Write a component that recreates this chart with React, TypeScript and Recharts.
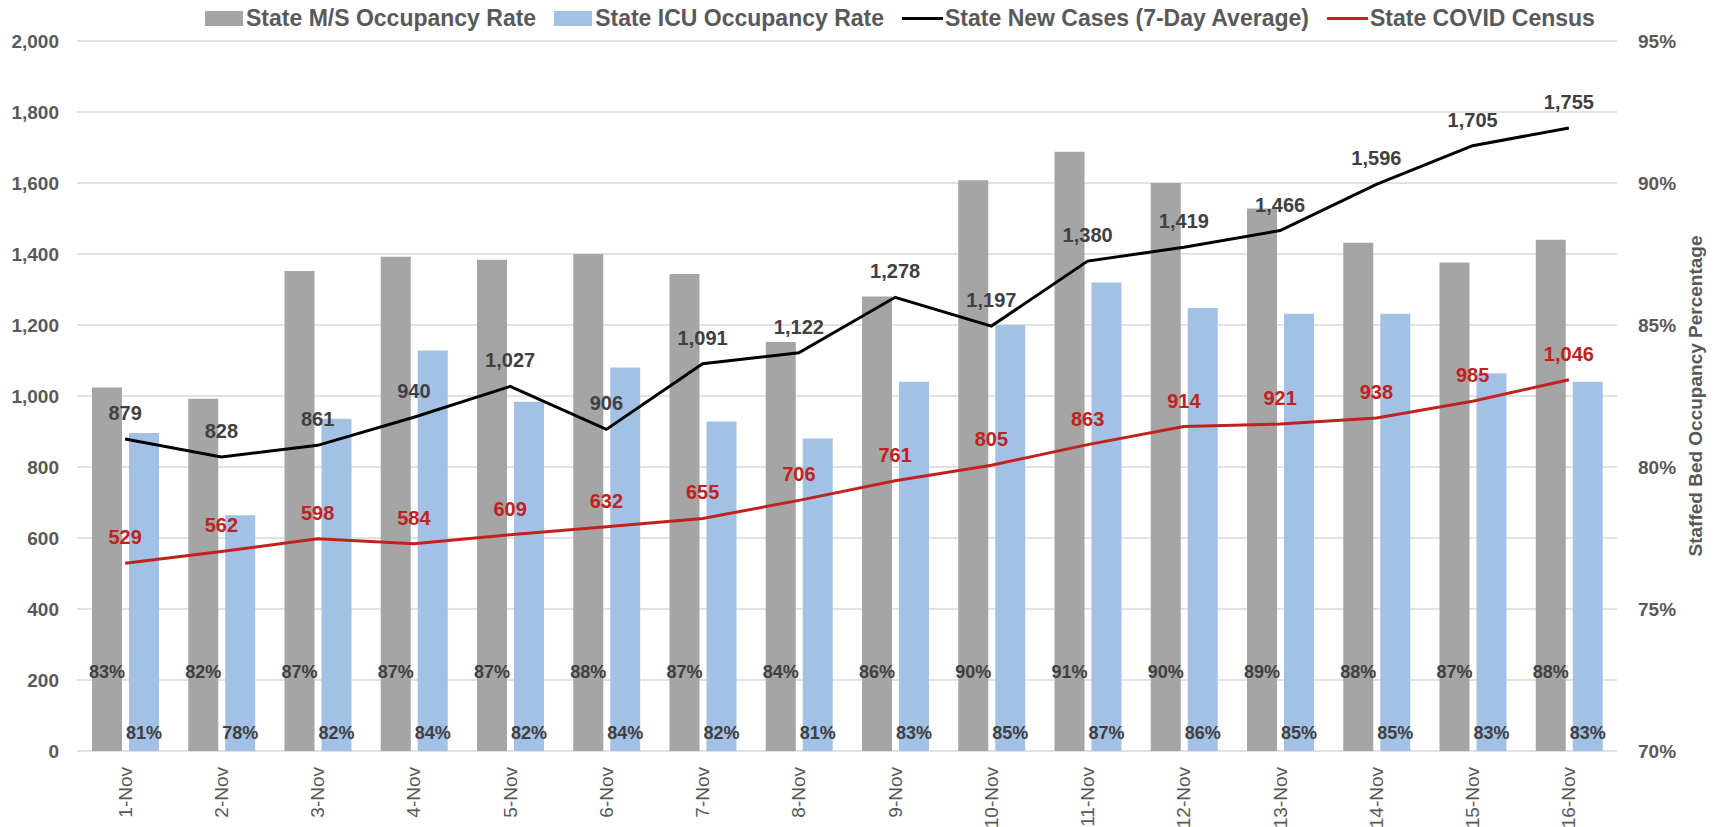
import React from "react";
import {
  Bar,
  CartesianGrid,
  ComposedChart,
  LabelList,
  Line,
  XAxis,
  YAxis
} from "recharts";

const dates = [
  "1-Nov", "2-Nov", "3-Nov", "4-Nov", "5-Nov", "6-Nov", "7-Nov", "8-Nov",
  "9-Nov", "10-Nov", "11-Nov", "12-Nov", "13-Nov", "14-Nov", "15-Nov", "16-Nov"
];
const msRate = [82.8, 82.4, 86.9, 87.4, 87.3, 87.5, 86.8, 84.4, 86.0, 90.1, 91.1, 90.0, 89.1, 87.9, 87.2, 88.0];
const icuRate = [81.2, 78.3, 81.7, 84.1, 82.3, 83.5, 81.6, 81.0, 83.0, 85.0, 86.5, 85.6, 85.4, 85.4, 83.3, 83.0];
const newCases = [879, 828, 861, 940, 1027, 906, 1091, 1122, 1278, 1197, 1380, 1419, 1466, 1596, 1705, 1755];
const census = [529, 562, 598, 584, 609, 632, 655, 706, 761, 805, 863, 914, 921, 938, 985, 1046];

const leftTicks = [0, 200, 400, 600, 800, 1000, 1200, 1400, 1600, 1800, 2000];
const rightTicks = [70, 75, 80, 85, 90, 95];
const boundaryTicks = Array.from({ length: dates.length + 1 }, (_, i) => i);

const data = dates.map((d, i) => ({
  date: d,
  ms: msRate[i],
  icu: icuRate[i],
  cases: newCases[i],
  census: census[i]
}));

const FONT = "'Liberation Sans', Arial, sans-serif";
const GREY = "#a5a5a5";
const BLUE = "#a3c1e4";
const RED = "#c0221d";
const TEXT = "#595959";

const legendItems = [
  { name: "State M/S Occupancy Rate", color: GREY, kind: "box" },
  { name: "State ICU Occupancy Rate", color: BLUE, kind: "box" },
  { name: "State New Cases (7-Day Average)", color: "#000", kind: "line" },
  { name: "State COVID Census", color: RED, kind: "line" }
];

const fmt = (v: number) => v.toLocaleString("en-US");

function pctLabel(offset: number) {
  return (props: any) => {
    const { x, y, width, height, value } = props;
    return (
      <text
        x={x + width / 2}
        y={y + height - offset}
        textAnchor="middle"
        dominantBaseline="central"
        fontFamily={FONT}
        fontSize={18}
        fontWeight="bold"
        fill="#404040"
      >
        {Math.round(value)}%
      </text>
    );
  };
}

function lineLabel(color: string) {
  return (props: any) => {
    const { x, y, value } = props;
    return (
      <text
        x={x}
        y={y - 19}
        textAnchor="middle"
        fontFamily={FONT}
        fontSize={20}
        fontWeight="bold"
        fill={color}
      >
        {fmt(value)}
      </text>
    );
  };
}

function DateTick(props: any) {
  const { x, y, payload } = props;
  return (
    <text
      transform={`translate(${x},${y + 8}) rotate(-90)`}
      textAnchor="end"
      dominantBaseline="central"
      fontFamily={FONT}
      fontSize={19}
      fill={TEXT}
    >
      {payload.value}
    </text>
  );
}

function RightTitle(props: any) {
  const { viewBox } = props;
  const cx = viewBox.x + 78;
  const cy = viewBox.y + viewBox.height / 2;
  return (
    <text
      transform={`translate(${cx},${cy}) rotate(-90)`}
      textAnchor="middle"
      dominantBaseline="central"
      fontFamily={FONT}
      fontSize={19}
      fontWeight="bold"
      fill={TEXT}
    >
      Staffed Bed Occupancy Percentage
    </text>
  );
}

export default function App() {
  return (
    <div
      style={{
        position: "fixed",
        left: 0,
        top: 0,
        width: 1715,
        height: 827,
        background: "#fff",
        fontFamily: FONT
      }}
    >
      <div
        style={{
          position: "absolute",
          top: 5,
          left: 205,
          display: "flex",
          alignItems: "center",
          fontSize: 23,
          lineHeight: "26px",
          fontWeight: "bold",
          color: TEXT,
          whiteSpace: "nowrap"
        }}
      >
        {legendItems.map((it) => (
          <div
            key={it.name}
            style={{ display: "flex", alignItems: "center", marginRight: 18 }}
          >
            {it.kind === "box" ? (
              <span
                style={{
                  display: "inline-block",
                  width: 38,
                  height: 15,
                  background: it.color,
                  marginRight: 3
                }}
              />
            ) : (
              <span
                style={{
                  display: "inline-block",
                  width: 41,
                  height: 3,
                  background: it.color,
                  marginRight: 2
                }}
              />
            )}
            {it.name}
          </div>
        ))}
      </div>
      <ComposedChart
        width={1715}
        height={827}
        data={data}
        margin={{ top: 41, right: 0, bottom: 0, left: 0 }}
        barSize={30}
        barGap={7}
      >
        <CartesianGrid
          vertical={false}
          stroke="#d9d9d9"
          strokeWidth={1.5}
          yAxisId="left"
        />
        <XAxis
          xAxisId="bounds"
          type="number"
          domain={[0, dates.length]}
          ticks={boundaryTicks}
          height={0}
          tick={false}
          tickSize={9}
          stroke="#d9d9d9"
          axisLine={{ stroke: "#d9d9d9", strokeWidth: 1.5 }}
        />
        <XAxis
          dataKey="date"
          height={76}
          axisLine={false}
          tickLine={false}
          interval={0}
          tick={<DateTick />}
        />
        <YAxis
          yAxisId="left"
          width={77}
          domain={[0, 2000]}
          ticks={leftTicks}
          tickFormatter={fmt}
          axisLine={false}
          tickLine={false}
          tickMargin={12}
          tick={{ fontFamily: FONT, fontSize: 19, fontWeight: "bold", fill: TEXT }}
        />
        <YAxis
          yAxisId="right"
          orientation="right"
          width={98}
          domain={[70, 95]}
          ticks={rightTicks}
          tickFormatter={(v: number) => `${v}%`}
          axisLine={false}
          tickLine={false}
          tickMargin={15}
          tick={{ fontFamily: FONT, fontSize: 19, fontWeight: "bold", fill: TEXT, textAnchor: "start" }}
          label={<RightTitle />}
        />
        <Bar yAxisId="right" dataKey="ms" fill={GREY} isAnimationActive={false}>
          <LabelList dataKey="ms" content={pctLabel(79)} />
        </Bar>
        <Bar yAxisId="right" dataKey="icu" fill={BLUE} isAnimationActive={false}>
          <LabelList dataKey="icu" content={pctLabel(18)} />
        </Bar>
        <Line
          yAxisId="left"
          dataKey="cases"
          stroke="#000"
          strokeWidth={3}
          dot={false}
          isAnimationActive={false}
        >
          <LabelList dataKey="cases" content={lineLabel("#404040")} />
        </Line>
        <Line
          yAxisId="left"
          dataKey="census"
          stroke={RED}
          strokeWidth={3}
          dot={false}
          isAnimationActive={false}
        >
          <LabelList dataKey="census" content={lineLabel(RED)} />
        </Line>
      </ComposedChart>
    </div>
  );
}
